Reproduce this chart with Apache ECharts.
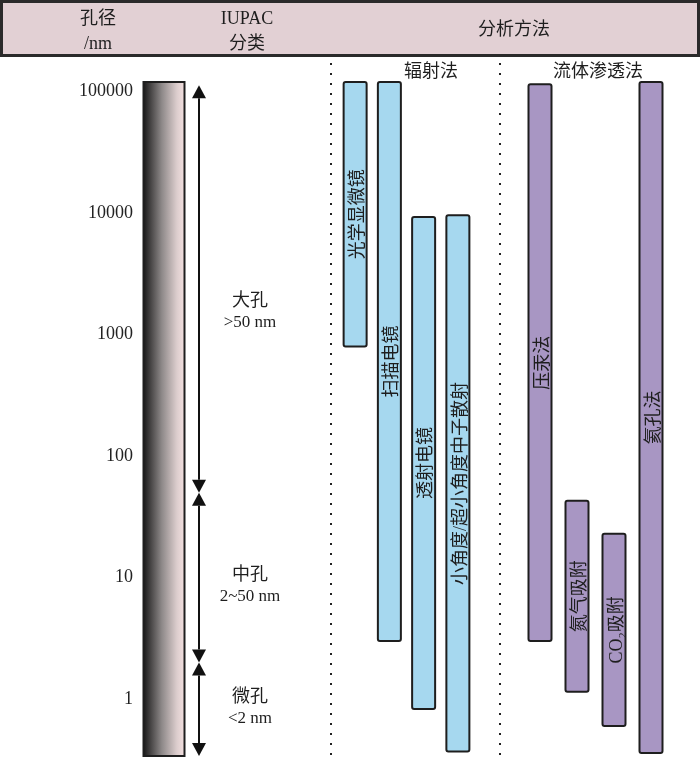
<!DOCTYPE html>
<html lang="zh-CN">
<head>
	<meta charset="UTF-8">
	<title>孔径与分析方法</title>
	<script src="https://cdn.jsdelivr.net/npm/echarts@6/dist/echarts.min.js"></script>
	<style>
		html, body { margin: 0; padding: 0; background: #fff; }
		#main { width: 700px; height: 758px; }
	</style>
</head>
<body>
<div id="main"></div>
<script>
	// 孔径轴范围 (nm)，对数刻度
	var yMin = 0.34;
	var yMax = 120000;

	// 左侧两列：孔径色条 + IUPAC 分类箭头
	var leftCols = ['孔径', 'IUPAC分类'];

	// IUPAC 分类
	var poreNames = ['大孔', '中孔', '微孔'];
	var poreRanges = ['>50 nm', '2~50 nm', '<2 nm'];
	var poreLow = [50, 2, 0.34];
	var poreHigh = [113000, 50, 2];

	// 辐射法
	var radNames = ['光学显微镜', '扫描电镜', '透射电镜', '小角度/超小角度中子散射'];
	var radLow = [800, 3, 0.83, 0.37];
	var radHigh = [120000, 120000, 9300, 9600];

	// 流体渗透法
	var fluidNames = ['压汞法', '氮气吸附', 'CO₂吸附', '氦孔法'];
	var fluidLow = [3, 1.15, 0.6, 0.36];
	var fluidHigh = [115000, 43, 23, 120000];

	var FONT = '"Liberation Serif", "Noto Sans CJK SC", serif';
	var INK = '#1e1e1e';

	function rangeData(low, high) {
		var arr = [];
		for (var i = 0; i < low.length; i++) {
			arr.push([i, low[i], high[i]]);
		}
		return arr;
	}

	// 竖直范围条，文字竖排居中
	function rangeBar(names, fill) {
		return function (params, api) {
			var x = api.value(0);
			var top = api.coord([x, api.value(2)]);
			var bot = api.coord([x, api.value(1)]);
			var w = 23;
			return {
				type: 'group',
				children: [{
					type: 'rect',
					shape: { x: top[0] - w / 2, y: top[1], width: w, height: bot[1] - top[1], r: 2 },
					style: { fill: fill, stroke: INK, lineWidth: 2 }
				}, {
					type: 'text',
					x: top[0] + 3,
					y: (top[1] + bot[1]) / 2,
					rotation: Math.PI / 2,
					style: {
						text: names[params.dataIndex],
						fill: INK,
						fontSize: 18,
						fontFamily: FONT,
						align: 'center',
						verticalAlign: 'middle'
					}
				}]
			};
		};
	}

	// 孔径色条（黑→浅粉渐变）
	function sizeBar(params, api) {
		var top = api.coord([0, api.value(2)]);
		var bot = api.coord([0, api.value(1)]);
		var w = 41;
		return {
			type: 'rect',
			shape: { x: top[0] - w / 2 - 1, y: top[1], width: w, height: bot[1] - top[1] },
			style: {
				fill: new echarts.graphic.LinearGradient(0, 0, 1, 0, [
					{ offset: 0, color: '#121212' },
					{ offset: 0.45, color: '#8e8989' },
					{ offset: 0.8, color: '#dccdcd' },
					{ offset: 1, color: '#f6e2e2' }
				]),
				stroke: INK,
				lineWidth: 2
			}
		};
	}

	// IUPAC 分类双向箭头
	var labelShift = [23, 8, -1];
	function poreArrow(params, api) {
		var i = params.dataIndex;
		var top = api.coord([1, api.value(2)]);
		var bot = api.coord([1, api.value(1)]);
		var x = top[0], hw = 7, hh = 13;
		return {
			type: 'group',
			children: [{
				type: 'line',
				shape: { x1: x, y1: top[1] + hh, x2: x, y2: bot[1] - hh },
				style: { stroke: '#111', lineWidth: 2 }
			}, {
				type: 'polygon',
				shape: { points: [[x, top[1]], [x - hw, top[1] + hh], [x + hw, top[1] + hh]] },
				style: { fill: '#111' }
			}, {
				type: 'polygon',
				shape: { points: [[x, bot[1]], [x - hw, bot[1] - hh], [x + hw, bot[1] - hh]] },
				style: { fill: '#111' }
			}, {
				type: 'text',
				x: x + 51,
				y: (top[1] + bot[1]) / 2 + labelShift[i],
				style: {
					text: '{a|' + poreNames[i] + '}\n{b|' + poreRanges[i] + '}',
					align: 'center',
					verticalAlign: 'middle',
					rich: {
						a: { fontSize: 18, fontFamily: FONT, fill: INK, lineHeight: 21 },
						b: { fontSize: 17, fontFamily: FONT, fill: INK, lineHeight: 21 }
					}
				}
			}]
		};
	}

	var gridTop = 82, gridBottom = 2;
	function logAxis(idx, showLabel) {
		return {
			type: 'log',
			logBase: 10,
			gridIndex: idx,
			min: yMin,
			max: yMax,
			axisLine: { show: false },
			axisTick: { show: false },
			splitLine: { show: false },
			axisLabel: {
				show: showLabel,
				margin: 15,
				fontSize: 18,
				fontFamily: FONT,
				color: '#222',
				showMinLabel: false,
				showMaxLabel: false,
				formatter: function (v) { return String(Math.round(v)); }
			}
		};
	}
	function catAxis(idx, data) {
		return { type: 'category', gridIndex: idx, data: data, show: false };
	}

	function hText(x, y, text) {
		return {
			type: 'text', x: x, y: y,
			style: { text: text, fill: INK, fontSize: 18, fontFamily: FONT, align: 'center', verticalAlign: 'middle' }
		};
	}
	function dots(x) {
		return {
			type: 'line',
			shape: { x1: x, y1: 63, x2: x, y2: 758 },
			style: { stroke: '#222', lineWidth: 2, lineDash: [2, 8] }
		};
	}

	var chart = echarts.init(document.getElementById('main'));
	chart.setOption({
		animation: false,
		backgroundColor: '#fff',
		grid: [
			{ left: 148, width: 68, top: gridTop, bottom: gridBottom },
			{ left: 338, width: 137, top: gridTop, bottom: gridBottom },
			{ left: 521.5, width: 148, top: gridTop, bottom: gridBottom }
		],
		xAxis: [catAxis(0, leftCols), catAxis(1, radNames), catAxis(2, fluidNames)],
		yAxis: [logAxis(0, true), logAxis(1, false), logAxis(2, false)],
		graphic: [
			{
				type: 'rect',
				shape: { x: 1.5, y: 1.5, width: 697, height: 54 },
				style: { fill: '#e2d0d4', stroke: '#2a2a2a', lineWidth: 3 }
			},
			hText(98, 19, '孔径'),
			hText(98, 44, '/nm'),
			hText(247, 19, 'IUPAC'),
			hText(247, 44, '分类'),
			hText(514, 30, '分析方法'),
			hText(431, 72, '辐射法'),
			hText(598, 72, '流体渗透法'),
			dots(331),
			dots(500)
		],
		series: [
			{
				type: 'custom', xAxisIndex: 0, yAxisIndex: 0,
				renderItem: sizeBar,
				data: [[0, yMin, yMax]]
			},
			{
				type: 'custom', xAxisIndex: 0, yAxisIndex: 0,
				renderItem: poreArrow,
				data: poreNames.map(function (n, i) { return [1, poreLow[i], poreHigh[i]]; })
			},
			{
				type: 'custom', xAxisIndex: 1, yAxisIndex: 1,
				renderItem: rangeBar(radNames, '#a6d8ef'),
				data: rangeData(radLow, radHigh)
			},
			{
				type: 'custom', xAxisIndex: 2, yAxisIndex: 2,
				renderItem: rangeBar(fluidNames, '#a896c3'),
				data: rangeData(fluidLow, fluidHigh)
			}
		]
	});
</script>
</body>
</html>
